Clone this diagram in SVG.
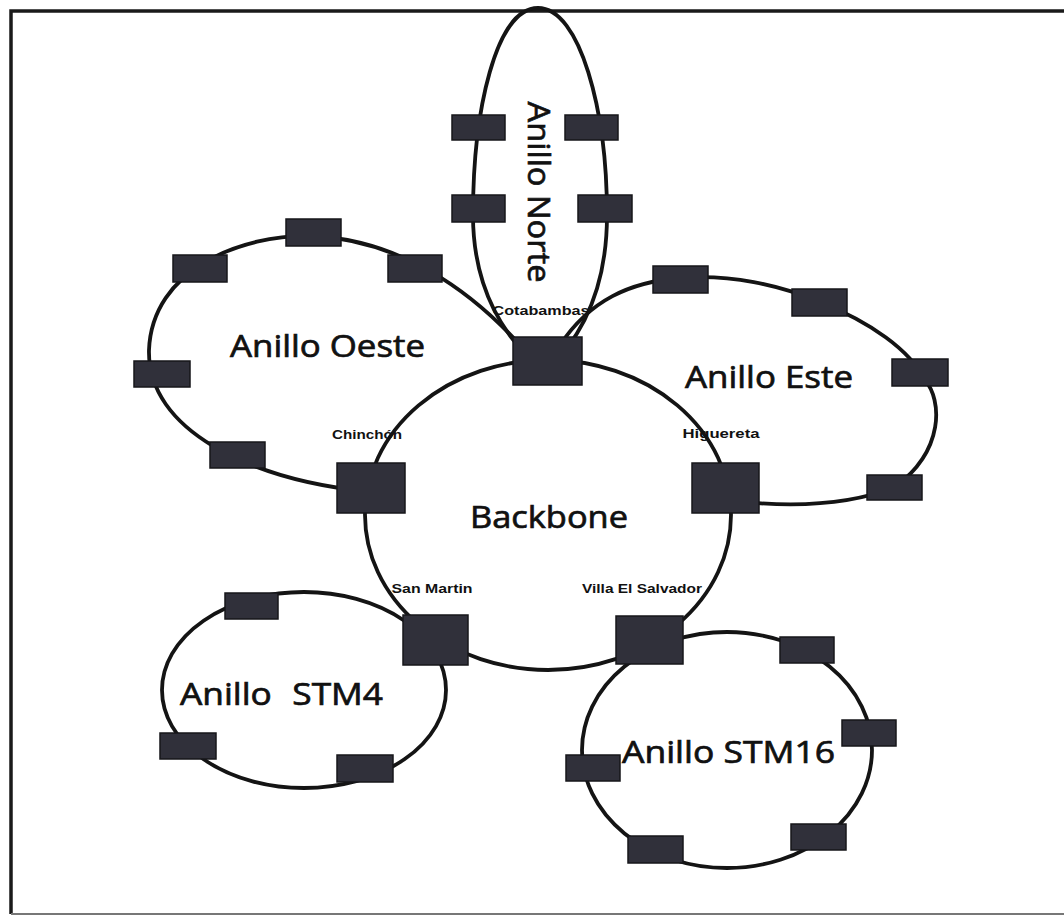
<svg xmlns="http://www.w3.org/2000/svg" width="1064" height="916" viewBox="0 0 1064 916">
<style>
.ring{fill:none;stroke:#141414;stroke-width:3.8}
.nd{fill:#30303a;stroke:#16161a;stroke-width:1.5}
.big{font-family:"Open Sans","Liberation Sans",sans-serif;font-size:31px;fill:#111;stroke:#111;stroke-width:0.7}
.lbl{font-family:"Liberation Sans",Arial,sans-serif;font-size:13px;font-weight:bold;fill:#111}
</style>
<rect x="0" y="0" width="1064" height="916" fill="#ffffff"/>
<path d="M1064 11 H11 V914" fill="none" stroke="#1a1a1a" stroke-width="3.5"/>
<path d="M11 914 H1064" fill="none" stroke="#777" stroke-width="2"/>
<g id="connectors">
<path id="ring-norte" class="ring" d="M538 8 C580 8 607 110 607 215 C607 290 580 340 545 372 C505 340 473 290 473 215 C473 110 496 8 538 8 Z"/>
<path id="ring-oeste" class="ring" d="M520 345 C470 290 400 240 313 236 C240 234 152 270 149 350 C147 430 250 480 371 492"/>
<path id="ring-este" class="ring" d="M560 345 C590 300 630 282 680 278 C730 274 780 285 820 302 C870 322 910 350 925 380 C942 400 945 450 895 487 C850 505 790 508 725 500"/>
<ellipse id="ring-backbone" class="ring" cx="548" cy="515" rx="183" ry="155"/>
<ellipse id="ring-stm4" class="ring" cx="304" cy="690" rx="142" ry="98"/>
<ellipse id="ring-stm16" class="ring" cx="727" cy="750" rx="145" ry="118"/>
</g>
<g id="node-norte-1"><rect class="nd" x="452" y="115" width="53" height="25"/></g>
<g id="node-norte-2"><rect class="nd" x="565" y="115" width="53" height="25"/></g>
<g id="node-norte-3"><rect class="nd" x="452" y="195" width="53" height="27"/></g>
<g id="node-norte-4"><rect class="nd" x="578" y="195" width="54" height="27"/></g>
<g id="node-cotabambas"><rect class="nd" x="513" y="337" width="69" height="48"/><text class="lbl" x="541" y="315" text-anchor="middle" textLength="97" lengthAdjust="spacingAndGlyphs">Cotabambas</text></g>
<g id="node-oeste-1"><rect class="nd" x="286" y="219" width="55" height="27"/></g>
<g id="node-oeste-2"><rect class="nd" x="173" y="255" width="54" height="27"/></g>
<g id="node-oeste-3"><rect class="nd" x="388" y="255" width="54" height="27"/></g>
<g id="node-oeste-4"><rect class="nd" x="134" y="361" width="56" height="26"/></g>
<g id="node-oeste-5"><rect class="nd" x="210" y="442" width="55" height="26"/></g>
<g id="node-chinchon"><rect class="nd" x="337" y="463" width="68" height="50"/><text class="lbl" x="367" y="439" text-anchor="middle" textLength="70" lengthAdjust="spacingAndGlyphs">Chinchón</text></g>
<g id="node-este-1"><rect class="nd" x="653" y="266" width="55" height="27"/></g>
<g id="node-este-2"><rect class="nd" x="792" y="289" width="55" height="27"/></g>
<g id="node-este-3"><rect class="nd" x="892" y="359" width="56" height="27"/></g>
<g id="node-este-4"><rect class="nd" x="867" y="475" width="55" height="25"/></g>
<g id="node-higuereta"><rect class="nd" x="692" y="463" width="67" height="50"/><text class="lbl" x="721" y="438" text-anchor="middle" textLength="77" lengthAdjust="spacingAndGlyphs">Higuereta</text></g>
<g id="node-sanmartin"><rect class="nd" x="403" y="615" width="65" height="50"/><text class="lbl" x="432" y="593" text-anchor="middle" textLength="81" lengthAdjust="spacingAndGlyphs">San Martin</text></g>
<g id="node-villaelsalvador"><rect class="nd" x="616" y="616" width="67" height="48"/><text class="lbl" x="642" y="593" text-anchor="middle" textLength="120" lengthAdjust="spacingAndGlyphs">Villa El Salvador</text></g>
<g id="node-stm4-1"><rect class="nd" x="225" y="593" width="53" height="26"/></g>
<g id="node-stm4-2"><rect class="nd" x="160" y="733" width="56" height="26"/></g>
<g id="node-stm4-3"><rect class="nd" x="337" y="755" width="56" height="27"/></g>
<g id="node-stm16-1"><rect class="nd" x="780" y="637" width="54" height="26"/></g>
<g id="node-stm16-2"><rect class="nd" x="842" y="720" width="54" height="26"/></g>
<g id="node-stm16-3"><rect class="nd" x="566" y="755" width="54" height="26"/></g>
<g id="node-stm16-4"><rect class="nd" x="791" y="824" width="55" height="26"/></g>
<g id="node-stm16-5"><rect class="nd" x="628" y="836" width="55" height="27"/></g>
<g id="ring-labels">
<text class="big" transform="translate(528,192) rotate(90)" x="0" y="0" text-anchor="middle" textLength="181" lengthAdjust="spacingAndGlyphs">Anillo Norte</text>
<text class="big" x="230" y="357" textLength="195" lengthAdjust="spacingAndGlyphs">Anillo Oeste</text>
<text class="big" x="685" y="388" textLength="168" lengthAdjust="spacingAndGlyphs">Anillo Este</text>
<text class="big" x="470" y="528" font-size="28" stroke-width="0.3" textLength="158" lengthAdjust="spacingAndGlyphs">Backbone</text>
<text class="big" x="180" y="705" word-spacing="10" textLength="203" lengthAdjust="spacingAndGlyphs">Anillo STM4</text>
<text class="big" x="622" y="763" textLength="213" lengthAdjust="spacingAndGlyphs">Anillo STM16</text>
</g>
</svg>
